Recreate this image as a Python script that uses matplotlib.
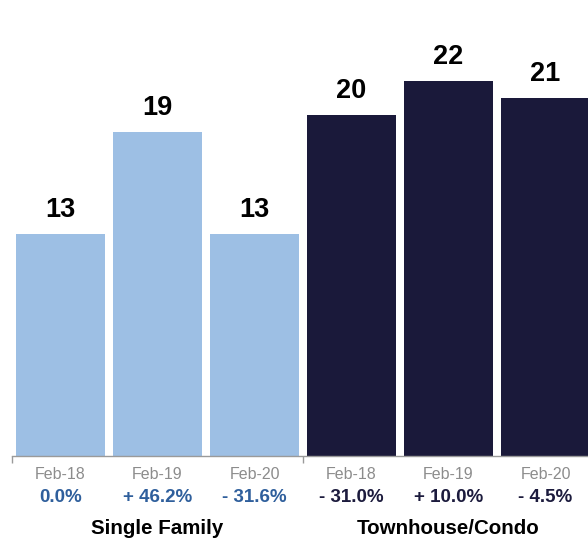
import matplotlib.pyplot as plt
from matplotlib.ticker import FixedLocator

plt.rcParams['font.family'] = ['Liberation Sans', 'DejaVu Sans']

# data
groups = ['Single Family', 'Townhouse/Condo']
periods = ['Feb-18', 'Feb-19', 'Feb-20']
single_family = [13, 19, 13]
townhouse = [20, 22, 21]
sf_change = ['0.0%', '+ 46.2%', '- 31.6%']
th_change = ['- 31.0%', '+ 10.0%', '- 4.5%']

light = '#9dbfe4'
dark = '#1a193a'
sf_text = '#2f5f9c'
th_text = '#1c1b3d'

fig = plt.figure(figsize=(5.88, 5.44), dpi=100)
ax = fig.add_axes([12 / 588, 88 / 544, 1 - 12 / 588, 1 - 88 / 544])

values = single_family + townhouse
colors = [light] * 3 + [dark] * 3
x = list(range(len(values)))
bars = ax.bar(x, values, width=0.92, color=colors)

for b, v in zip(bars, values):
    ax.annotate(str(v), (b.get_x() + b.get_width() / 2, v), xytext=(0, 24),
                textcoords='offset pixels', ha='center', va='center',
                fontsize=19.5, fontweight='bold', color='black')

ax.set_xlim(-0.5, 5.438)
ax.set_ylim(0, 26.75)
for s in ['top', 'right', 'left']:
    ax.spines[s].set_visible(False)
ax.spines['bottom'].set_color('#9a9a9a')
ax.spines['bottom'].set_linewidth(1.0)
ax.set_yticks([])

ax.set_xticks(x)
ax.set_xticklabels(periods * 2, fontsize=11.5, color='#8c8c8c')
ax.tick_params(axis='x', which='major', length=0, pad=8)
ax.xaxis.set_minor_locator(FixedLocator([-0.5, 2.5]))
ax.tick_params(axis='x', which='minor', length=5, color='#9a9a9a', width=1)

changes = sf_change + th_change
ch_colors = [sf_text] * 3 + [th_text] * 3
for xi, t, c in zip(x, changes, ch_colors):
    ax.annotate(t, (xi, 0), xytext=(0, -42), textcoords='offset pixels',
                ha='center', va='center', fontsize=13.5, fontweight='bold',
                color=c, annotation_clip=False)

for xi, g in zip([1, 4], groups):
    ax.annotate(g, (xi, 0), xytext=(0, -73), textcoords='offset pixels',
                ha='center', va='center', fontsize=14.8, fontweight='bold',
                color='black', annotation_clip=False)

fig.savefig('out.png', dpi=100)
